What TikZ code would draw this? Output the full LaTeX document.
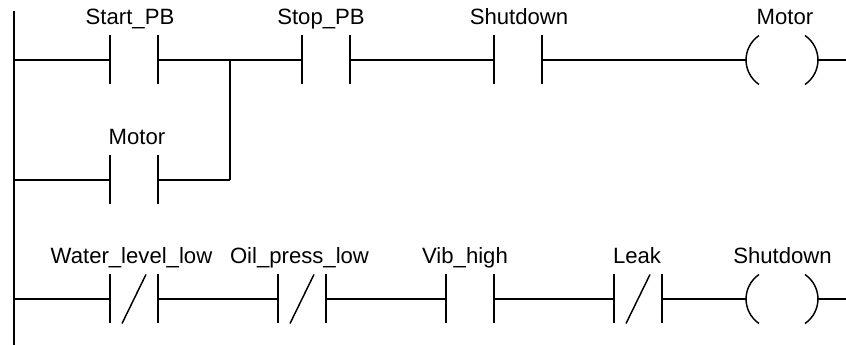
\documentclass[tikz,border=0pt]{standalone}
\usepackage{fontspec}
\setmainfont{Liberation Sans}
\tikzset{
    wire/.style={line width=0.9pt},
    rail/.style={line width=1.25pt},
    bar/.style={line width=1.1pt},
    contact/.style={minimum width=36pt,minimum height=36.75pt,inner sep=0pt,outer sep=0pt},
    coil/.style={minimum width=54pt,minimum height=36.75pt,inner sep=0pt,outer sep=0pt},
    tag/.style={anchor=base,inner sep=0pt,font=\fontsize{16.6pt}{18pt}\selectfont}
}
\begin{document}
\begin{tikzpicture}[x=0.75pt,y=-0.75pt]
    \useasboundingbox (0,0) rectangle (846,345);
    \coordinate (top) at (14,11);
    \coordinate (bottom) at (14,345);
    \coordinate (railA) at (14,60);
    \coordinate (railB) at (14,180);
    \coordinate (railC) at (14,299);
    \coordinate (joinA) at (230,60);
    \coordinate (joinB) at (230,180);
    \coordinate (endA) at (846,60);
    \coordinate (endC) at (846,299);
    \node[contact] (start) at (134,60) {};
    \node[contact] (stop) at (326,60) {};
    \node[contact] (shut) at (518,60) {};
    \node[coil] (motor) at (782,60) {};
    \node[contact] (hold) at (134,180) {};
    \node[contact] (water) at (134,299) {};
    \node[contact] (oil) at (302,299) {};
    \node[contact] (vib) at (470,299) {};
    \node[contact] (leak) at (638,299) {};
    \node[coil] (trip) at (782,299) {};
    \node[tag] (tstart) at (130,24.5) {Start\_PB};
    \node[tag] (tstop) at (321,24.5) {Stop\_PB};
    \node[tag] (tshut) at (519,24.5) {Shutdown};
    \node[tag] (tmotor) at (785,24.5) {Motor};
    \node[tag] (thold) at (137,144.5) {Motor};
    \node[tag] (twater) at (131.5,263.5) {Water\_level\_low};
    \node[tag] (toil) at (299.5,263.5) {Oil\_press\_low};
    \node[tag] (tvib) at (465,263.5) {Vib\_high};
    \node[tag] (tleak) at (637,263.5) {Leak};
    \node[tag] (ttrip) at (782.5,263.5) {Shutdown};
    \draw[rail] (top) -- (bottom);
    \draw[wire] (railA) -- (start.west);
    \draw[wire] (start.east) -- (stop.west);
    \draw[wire] (stop.east) -- (shut.west);
    \draw[wire] (shut.east) -- (motor.west);
    \draw[wire] (motor.east) -- (endA);
    \draw[wire] (railB) -- (hold.west);
    \draw[wire] (hold.east) -- (joinB);
    \draw[bar] (joinB) -- (joinA);
    \draw[wire] (railC) -- (water.west);
    \draw[wire] (water.east) -- (oil.west);
    \draw[wire] (oil.east) -- (vib.west);
    \draw[wire] (vib.east) -- (leak.west);
    \draw[wire] (leak.east) -- (trip.west);
    \draw[wire] (trip.east) -- (endC);
    \draw[bar] (start.north west) -- (start.south west) (start.north east) -- (start.south east);
    \draw[bar] (stop.north west) -- (stop.south west) (stop.north east) -- (stop.south east);
    \draw[bar] (shut.north west) -- (shut.south west) (shut.north east) -- (shut.south east);
    \draw[bar] (hold.north west) -- (hold.south west) (hold.north east) -- (hold.south east);
    \draw[bar] (water.north west) -- (water.south west) (water.north east) -- (water.south east);
    \draw[bar] (oil.north west) -- (oil.south west) (oil.north east) -- (oil.south east);
    \draw[bar] (vib.north west) -- (vib.south west) (vib.north east) -- (vib.south east);
    \draw[bar] (leak.north west) -- (leak.south west) (leak.north east) -- (leak.south east);
    \draw[bar] ([xshift=9pt]water.south west) -- ([xshift=27pt]water.north west);
    \draw[bar] ([xshift=9pt]oil.south west) -- ([xshift=27pt]oil.north west);
    \draw[bar] ([xshift=9pt]leak.south west) -- ([xshift=27pt]leak.north west);
    \draw[bar] ([xshift=9.75pt]motor.north west) .. controls ([xshift=-3.2pt,yshift=-9pt]motor.north west) and ([xshift=-3.2pt,yshift=9pt]motor.south west) .. ([xshift=9.75pt]motor.south west);
    \draw[bar] ([xshift=-9.75pt]motor.north east) .. controls ([xshift=3.2pt,yshift=-9pt]motor.north east) and ([xshift=3.2pt,yshift=9pt]motor.south east) .. ([xshift=-9.75pt]motor.south east);
    \draw[bar] ([xshift=9.75pt]trip.north west) .. controls ([xshift=-3.2pt,yshift=-9pt]trip.north west) and ([xshift=-3.2pt,yshift=9pt]trip.south west) .. ([xshift=9.75pt]trip.south west);
    \draw[bar] ([xshift=-9.75pt]trip.north east) .. controls ([xshift=3.2pt,yshift=-9pt]trip.north east) and ([xshift=3.2pt,yshift=9pt]trip.south east) .. ([xshift=-9.75pt]trip.south east);
\end{tikzpicture}
\end{document}
